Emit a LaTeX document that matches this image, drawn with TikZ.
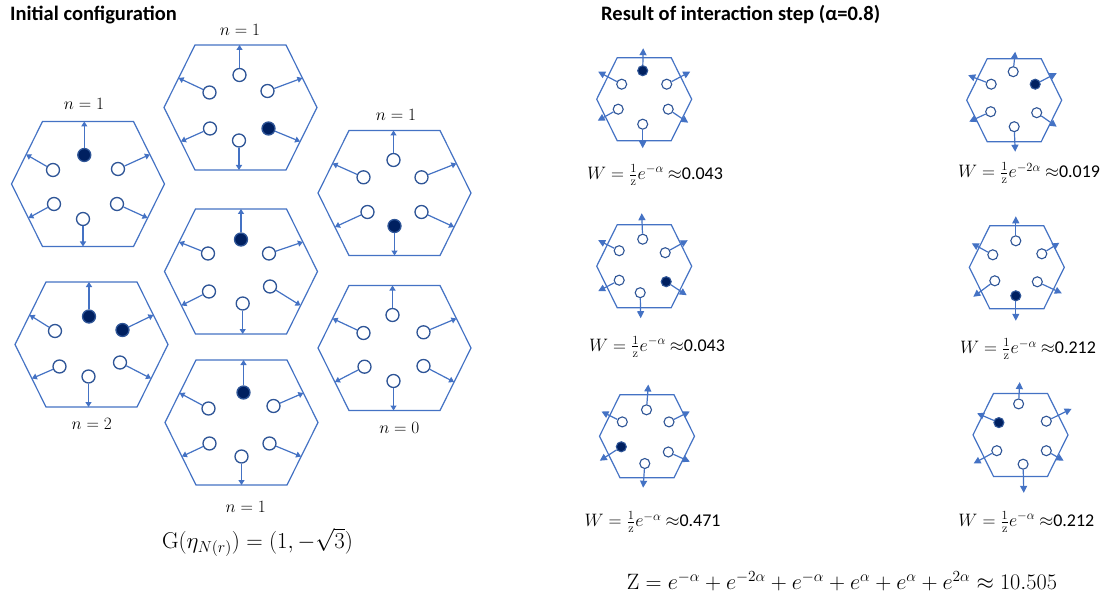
\documentclass[tikz,border=0pt]{standalone}
\usepackage[no-math]{fontspec}
\setmainfont{Carlito}
\usetikzlibrary{arrows.meta}
\definecolor{hexc}{RGB}{68,114,196}
\definecolor{ringc}{RGB}{47,85,151}
\definecolor{occ}{RGB}{0,32,96}
\definecolor{arrc}{RGB}{68,114,196}
\tikzset{
  hexline/.style={draw=hexc, line width=1.2pt, line join=miter},
  site/.style={circle, draw=ringc, line width=1.3pt, inner sep=0pt, minimum size=13pt},
  conn/.style={draw=arrc, line width=1.2pt, -{Triangle[length=5pt,width=6pt]}},
  lab/.style={font=\fontsize{17.28}{20}\selectfont, inner sep=0pt},
  wlab/.style={font=\fontsize{17.28}{20}\selectfont, inner sep=0pt, scale=1.04},
  ttl/.style={anchor=west, font=\fontsize{20.5}{23}\selectfont\bfseries, inner sep=0pt},
  small/.style={site/.append style={minimum size=10pt, line width=1.1pt},
                conn/.append style={-{Triangle[length=7pt,width=7pt]}}},
}
\newcommand{\hexcell}[7]{%
  \begin{scope}[shift={(#2,#3)}]
    \draw[hexline] (-#4,0) -- (-#6,-#5) -- (#6,-#5) -- (#4,0) -- (#6,#5) -- (-#6,#5) -- cycle;
    \foreach \n/\dx/\dy/\f/\ex/\ey in {#7} {
      \node[site, fill=\f] (#1\n) at (\dx,\dy) {};
      \coordinate (#1\n t) at (\ex,\ey);
      \draw[conn] (#1\n) -- (#1\n t);
    }
  \end{scope}}
\begin{document}
\begin{tikzpicture}[x=1pt,y=-1pt]
\fill[white] (0,0) rectangle (1103,596);
\useasboundingbox (0,0) rectangle (1103,596);

% titles
\node[ttl] (title1) at (10,15) {Initial configuration};
\node[ttl] (title2) at (601,15) {Result of interaction step (α=0.8)};

% ---------- left: big cells ----------
\hexcell{A}{88}{184}{76.5}{62.5}{45.5}{t/-3.7/-29/occ/-3.7/-62.5, ul/-35/-14/white/-61.9/-29.5, ur/30/-15/white/61.9/-29.5, ll/-34/20/white/-59.6/34, lr/29/20/white/59.6/34, b/-5/35/white/-5/62.5}
\hexcell{B}{240.5}{107.5}{76.5}{62.5}{45.5}{t/-1/-32.5/white/-1/-62.5, ul/-31/-15/white/-61.9/-29.5, ur/27/-16.5/white/61.9/-29.5, ll/-30.5/21/white/-59.6/34, lr/28/21/occ/59.6/34, b/-1.5/33/white/-1.5/62.5}
\hexcell{C}{394.5}{193}{76.5}{62.5}{45.5}{t/-1/-33/white/-1/-62.5, ul/-31/-15.7/white/-61.9/-29.5, ur/27/-15.7/white/61.9/-29.5, ll/-27/19/white/-59.6/34, lr/27/19/white/59.6/34, b/0/33/occ/0/62.5}
\hexcell{D}{241}{271.5}{76.5}{62.5}{45.5}{t/0/-32/occ/0/-62.5, ul/-33/-18/white/-61.9/-29.5, ur/28/-18/white/61.9/-29.5, ll/-32/20/white/-59.6/34, lr/29/15/white/59.6/34, b/1.7/32/white/1.7/62.5}
\hexcell{E}{91.5}{344.5}{76.5}{62.5}{45.5}{t/-2.5/-28/occ/-2.5/-62.5, ul/-36.5/-13.5/white/-61.9/-29.5, ur/31/-14.5/occ/61.9/-29.5, ll/-32/22/white/-59.6/34, lr/28.5/18/white/59.6/34, b/-3/32/white/-3/62.5}
\hexcell{F}{241.5}{422.5}{76.5}{62.5}{45.5}{t/2/-30/occ/2/-62.5, ul/-33/-14/white/-61.9/-29.5, ur/32/-16.5/white/61.9/-29.5, ll/-32/21/white/-59.6/34, lr/28/21/white/59.6/34, b/0/34/white/0/62.5}
\hexcell{G}{394.5}{348}{76.5}{62.5}{45.5}{t/-2/-33/white/-2/-62.5, ul/-31/-15/white/-61.9/-29.5, ur/29/-15.7/white/61.9/-29.5, ll/-30/18.7/white/-59.6/34, lr/29/18/white/59.6/34, b/-1/33/white/-1/62.5}

\node[lab] (nA) at (84,104) {$n=1$};
\node[lab] (nB) at (240,30) {$n=1$};
\node[lab] (nC) at (396,115) {$n=1$};
\node[lab] (nE) at (91.7,424) {$n=2$};
\node[lab] (nF) at (245.7,506.7) {$n=1$};
\node[lab] (nG) at (399.3,427.7) {$n=0$};
\node[font=\fontsize{20.74}{24}\selectfont, inner sep=0pt, scale=1.1] (gform) at (257.5,542) {$\mathrm{G}(\eta_{N(r)})=(1,-\sqrt{3})$};

% ---------- right: small cells ----------
\begin{scope}[small]
\hexcell{R1}{644.2}{99.2}{47.5}{41.5}{27}{t/-1.5/-28.5/occ/-1/-51, ul/-22.5/-15/white/-46/-27.5, ur/22.5/-15/white/46/-27.5, ll/-26/10/white/-46.5/21.5, lr/24/10/white/44/23.5, b/-1.5/25/white/-1.5/49}
\hexcell{R2}{1014.2}{100.2}{47.5}{41.5}{27}{t/-1/-28.5/white/1/-48.5, ul/-23/-16/white/-46/-25, ur/21/-16/occ/42.5/-27, ll/-23.5/11.5/white/-45/21.5, lr/22.5/12.5/white/42.5/26.5, b/0/26.5/white/1/51.5}
\hexcell{R3}{644.2}{266.2}{47.5}{41.5}{27}{t/-1.5/-27/white/-2.5/-53, ul/-25/-15.5/white/-46/-26, ur/21/-13.5/white/43.5/-26, ll/-25/14/white/-46/25, lr/22/15.5/occ/42.5/29, b/-4/26.5/white/-3.5/52}
\hexcell{R4}{1016.8}{267.3}{47.5}{41.5}{27}{t/-1/-26.5/white/-1/-51, ul/-24/-12.5/white/-45/-24, ur/25/-13.5/white/42.5/-24.5, ll/-22/13.5/white/-43.5/29.5, lr/20.5/14.5/white/45/26, b/-1/28.5/occ/-1/53.5}
\hexcell{R5}{647}{436.2}{47.5}{41.5}{27}{t/-0.5/-26.4/white/1.3/-51.7, ul/-24.7/-14.3/white/-45.5/-24.7, ur/22/-14.3/white/42.8/-24.7, ll/-25.7/10.6/occ/-47.2/24.5, lr/21.3/15.8/white/42.8/25.5, b/-2.2/27.3/white/-3.9/51.5}
\hexcell{R6}{1020.5}{434.9}{47.5}{41.5}{27}{t/-1.9/-31/white/-0.8/-52.8, ul/-21.6/-12.3/occ/-43.4/-21.6, ur/25.8/-13.7/white/51.1/-26.1, ll/-23.7/15.8/white/-46.9/28.6, lr/25.8/15.8/white/43.1/25.8, b/2.6/29.3/white/3.3/58}
\end{scope}

\node[wlab] (w1) at (655,175) {$W=\frac{1}{\mathrm{z}}e^{-\alpha}$ $\approx$0.043};
\node[wlab] (w2) at (1029,173.3) {$W=\frac{1}{\mathrm{z}}e^{-2\alpha}$ $\approx$0.019};
\node[wlab] (w3) at (657,346.7) {$W=\frac{1}{\mathrm{z}}e^{-\alpha}$ $\approx$0.043};
\node[wlab] (w4) at (1028,349.3) {$W=\frac{1}{\mathrm{z}}e^{-\alpha}$ $\approx$0.212};
\node[wlab] (w5) at (652.6,522.3) {$W=\frac{1}{\mathrm{z}}e^{-\alpha}$ $\approx$0.471};
\node[wlab] (w6) at (1026.4,522) {$W=\frac{1}{\mathrm{z}}e^{-\alpha}$ $\approx$0.212};

\node[font=\fontsize{20.74}{24}\selectfont, inner sep=0pt, scale=1.072] (zform) at (842,581) {$\mathrm{Z}=e^{-\alpha}+e^{-2\alpha}+e^{-\alpha}+e^{\alpha}+e^{\alpha}+e^{2\alpha}\approx 10.505$};
\end{tikzpicture}
\end{document}
